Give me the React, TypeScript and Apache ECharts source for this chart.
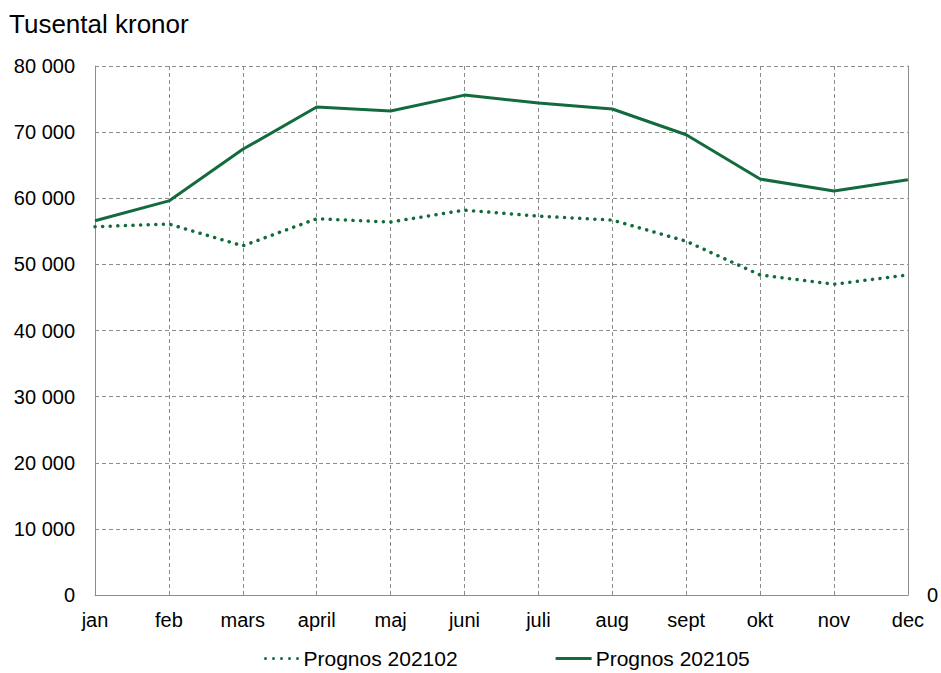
import React, { useEffect, useRef } from "react";
import * as echarts from "echarts";

const months = ["jan", "feb", "mars", "april", "maj", "juni", "juli", "aug", "sept", "okt", "nov", "dec"];
const prognos202102 = [55700, 56100, 52800, 56900, 56400, 58200, 57300, 56700, 53500, 48400, 47000, 48400];
const prognos202105 = [56600, 59600, 67400, 73800, 73200, 75600, 74400, 73500, 69600, 62900, 61100, 62800];
const yTicks = [0, 10000, 20000, 30000, 40000, 50000, 60000, 70000, 80000];

const GREEN = "#136b3d";
const FONT = "Liberation Sans, Arial, sans-serif";

const DOTS_ICON =
  "path://" +
  [1.5, 9.5, 17.5, 25.5, 33.5]
    .map((cx) => `M${cx - 1.5} 1.5 a1.5 1.5 0 1 0 3 0 a1.5 1.5 0 1 0 -3 0 Z`)
    .join(" ");
const SOLID_ICON = "path://M0 0 L36 0 L36 3 L0 3 Z";

function fmt(v: number) {
  return String(v).replace(/\B(?=(\d{3})+(?!\d))/g, " ");
}

export default function App() {
  const ref = useRef<HTMLDivElement>(null);
  useEffect(() => {
    if (!ref.current) return;
    const chart = echarts.init(ref.current, null, { renderer: "svg" });
    chart.setOption({
      animation: false,
      backgroundColor: "#fff",
      textStyle: { fontFamily: FONT },
      title: {
        text: "Tusental kronor",
        left: 4,
        top: 6,
        textStyle: { fontSize: 26, fontWeight: "normal", color: "#000", fontFamily: FONT },
      },
      grid: { left: 95, right: 30, top: 66, bottom: 78, containLabel: false },
      legend: {
        left: 264,
        top: 648,
        padding: 0,
        itemGap: 98,
        itemWidth: 36,
        itemHeight: 3,
        textStyle: { fontSize: 21, color: "#000", fontFamily: FONT, padding: [0, 0, 0, -1] },
        data: [
          { name: "Prognos 202102", icon: DOTS_ICON },
          { name: "Prognos 202105", icon: SOLID_ICON },
        ],
      },
      xAxis: {
        type: "category",
        data: months,
        boundaryGap: false,
        axisLine: { show: true, lineStyle: { color: "#8c8c8c", width: 1 } },
        axisTick: { show: false },
        axisLabel: { fontSize: 20, color: "#000", margin: 15, fontFamily: FONT, interval: 0 },
        splitLine: { show: true, lineStyle: { color: "#8c8c8c", type: [4, 3], width: 1 } },
      },
      yAxis: [
        {
          type: "value",
          min: 0,
          max: 80000,
          interval: 10000,
          axisLine: { show: true, lineStyle: { color: "#8c8c8c", width: 1 } },
          axisTick: { show: false },
          axisLabel: {
            fontSize: 20,
            color: "#000",
            margin: 20,
            fontFamily: FONT,
            formatter: (v: number) => (yTicks.includes(v) ? fmt(v) : ""),
          },
          splitLine: { show: true, lineStyle: { color: "#8c8c8c", type: [4, 3], width: 1 } },
        },
        {
          type: "value",
          min: 0,
          max: 1,
          interval: 1,
          position: "right",
          axisLine: { show: true, lineStyle: { color: "#8c8c8c", width: 1 } },
          axisTick: { show: false },
          axisLabel: {
            fontSize: 20,
            color: "#000",
            margin: 19,
            fontFamily: FONT,
            formatter: (v: number) => (v === 0 ? "0" : ""),
          },
          splitLine: { show: false },
        },
      ],
      series: [
        {
          name: "Prognos 202102",
          type: "line",
          data: prognos202102,
          symbol: "none",
          lineStyle: { color: GREEN, width: 3.5, type: [0.1, 7.5], cap: "round" },
          itemStyle: { color: GREEN },
        },
        {
          name: "Prognos 202105",
          type: "line",
          data: prognos202105,
          symbol: "none",
          lineStyle: { color: GREEN, width: 3 },
          itemStyle: { color: GREEN },
        },
      ],
    });
    return () => chart.dispose();
  }, []);
  return <div ref={ref} style={{ width: 941, height: 673, position: "absolute", left: 0, top: 0 }} />;
}
